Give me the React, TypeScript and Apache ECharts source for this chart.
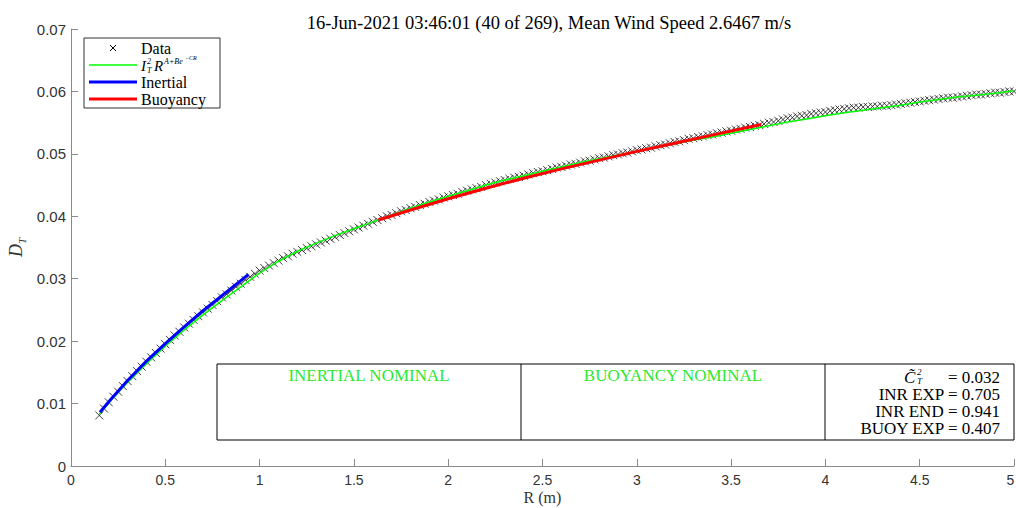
import React, { useEffect, useRef } from "react";
import * as echarts from "echarts";

const TITLE = "16-Jun-2021 03:46:01 (40 of 269), Mean Wind Speed 2.6467 m/s";

// Measured structure function samples
const R_DATA = [
  0.15, 0.175, 0.2, 0.225, 0.25, 0.275, 0.3, 0.325, 0.35, 0.375, 0.4, 0.425, 0.45, 0.475, 0.5,
  0.525, 0.55, 0.575, 0.6, 0.625, 0.65, 0.675, 0.7, 0.725, 0.75, 0.775, 0.8, 0.825, 0.85, 0.875,
  0.9, 0.925, 0.95, 0.975, 1.0, 1.025, 1.05, 1.075, 1.1, 1.125, 1.15, 1.175, 1.2, 1.225, 1.25,
  1.275, 1.3, 1.325, 1.35, 1.375, 1.4, 1.425, 1.45, 1.475, 1.5, 1.525, 1.55, 1.575, 1.6, 1.625,
  1.65, 1.675, 1.7, 1.725, 1.75, 1.775, 1.8, 1.825, 1.85, 1.875, 1.9, 1.925, 1.95, 1.975, 2.0,
  2.025, 2.05, 2.075, 2.1, 2.125, 2.15, 2.175, 2.2, 2.225, 2.25, 2.275, 2.3, 2.325, 2.35, 2.375,
  2.4, 2.425, 2.45, 2.475, 2.5, 2.525, 2.55, 2.575, 2.6, 2.625, 2.65, 2.675, 2.7, 2.725, 2.75,
  2.775, 2.8, 2.825, 2.85, 2.875, 2.9, 2.925, 2.95, 2.975, 3.0, 3.025, 3.05, 3.075, 3.1, 3.125,
  3.15, 3.175, 3.2, 3.225, 3.25, 3.275, 3.3, 3.325, 3.35, 3.375, 3.4, 3.425, 3.45, 3.475, 3.5,
  3.525, 3.55, 3.575, 3.6, 3.625, 3.65, 3.675, 3.7, 3.725, 3.75, 3.775, 3.8, 3.825, 3.85, 3.875,
  3.9, 3.925, 3.95, 3.975, 4.0, 4.025, 4.05, 4.075, 4.1, 4.125, 4.15, 4.175, 4.2, 4.225, 4.25,
  4.275, 4.3, 4.325, 4.35, 4.375, 4.4, 4.425, 4.45, 4.475, 4.5, 4.525, 4.55, 4.575, 4.6, 4.625,
  4.65, 4.675, 4.7, 4.725, 4.75, 4.775, 4.8, 4.825, 4.85, 4.875, 4.9, 4.925, 4.95, 4.975, 5.0,
];
const D_DATA = [
  0.0081, 0.0092, 0.0102, 0.0111, 0.0119, 0.0128, 0.0136, 0.0144, 0.0152, 0.0159, 0.0167, 0.0174, 0.0181, 0.0188, 0.0195,
  0.0202, 0.0209, 0.0215, 0.0222, 0.0228, 0.0234, 0.024, 0.0246, 0.0252, 0.0258, 0.0264, 0.027, 0.0275, 0.0281, 0.0287,
  0.0292, 0.0298, 0.0303, 0.0308, 0.0313, 0.0317, 0.0321, 0.0325, 0.0329, 0.0333, 0.0336, 0.034, 0.0343, 0.0346, 0.0349,
  0.0352, 0.0355, 0.0358, 0.0361, 0.0364, 0.0367, 0.037, 0.0373, 0.0376, 0.0379, 0.0382, 0.0385, 0.0388, 0.0391, 0.0394,
  0.0397, 0.04, 0.0402, 0.0405, 0.0408, 0.041, 0.0413, 0.0415, 0.0418, 0.042, 0.0423, 0.0425, 0.0427, 0.043, 0.0432,
  0.0434, 0.0436, 0.0439, 0.0441, 0.0443, 0.0445, 0.0447, 0.045, 0.0452, 0.0454, 0.0456, 0.0458, 0.046, 0.0462, 0.0463,
  0.0465, 0.0467, 0.0469, 0.0471, 0.0472, 0.0474, 0.0476, 0.0478, 0.0479, 0.0481, 0.0483, 0.0484, 0.0486, 0.0488, 0.0489,
  0.0491, 0.0493, 0.0494, 0.0496, 0.0498, 0.0499, 0.0501, 0.0502, 0.0504, 0.0506, 0.0507, 0.0509, 0.051, 0.0512, 0.0514,
  0.0515, 0.0517, 0.0519, 0.052, 0.0522, 0.0524, 0.0525, 0.0527, 0.0528, 0.053, 0.0531, 0.0533, 0.0534, 0.0536, 0.0537,
  0.0539, 0.054, 0.0542, 0.0543, 0.0545, 0.0546, 0.0548, 0.055, 0.0551, 0.0553, 0.0555, 0.0557, 0.0558, 0.056, 0.0561,
  0.0562, 0.0564, 0.0565, 0.0566, 0.0567, 0.0569, 0.057, 0.0571, 0.0572, 0.0573, 0.0574, 0.0574, 0.0575, 0.0575, 0.0576,
  0.0576, 0.0577, 0.0577, 0.0578, 0.0579, 0.058, 0.0581, 0.0582, 0.0583, 0.0584, 0.0585, 0.0586, 0.0587, 0.0588, 0.0589,
  0.059, 0.059, 0.0591, 0.0592, 0.0593, 0.0594, 0.0595, 0.0595, 0.0596, 0.0597, 0.0598, 0.0598, 0.0599, 0.06, 0.06,
];

// Full model fit  I_T^2 R^(A+B e^(-CR))
const R_FIT = [0.15, 0.2, 0.3, 0.4, 0.5, 0.6, 0.7, 0.8, 0.9, 1.0, 1.1, 1.2, 1.3, 1.4, 1.5, 1.6, 1.7, 1.8, 1.9, 2.0, 2.1, 2.2, 2.3, 2.4, 2.5, 2.6, 2.7, 2.8, 2.9, 3.0, 3.1, 3.2, 3.3, 3.4, 3.5, 3.6, 3.7, 3.8, 3.9, 4.0, 4.1, 4.2, 4.3, 4.4, 4.5, 4.6, 4.7, 4.8, 4.9, 5.0];
const D_FIT = [0.0083, 0.0101, 0.0134, 0.0164, 0.0192, 0.0218, 0.0242, 0.0265, 0.0287, 0.0309, 0.0328, 0.0344, 0.0357, 0.0369, 0.038, 0.0391, 0.0402, 0.0413, 0.0423, 0.0432, 0.0441, 0.045, 0.0458, 0.0465, 0.0472, 0.0479, 0.0486, 0.0492, 0.0498, 0.0504, 0.051, 0.0516, 0.0522, 0.0527, 0.0533, 0.0539, 0.0545, 0.0551, 0.0556, 0.0561, 0.0566, 0.057, 0.0574, 0.0578, 0.0583, 0.0587, 0.0591, 0.0594, 0.0597, 0.0601];

// Inertial range fit
const R_INR = [0.154, 0.2, 0.3, 0.4, 0.5, 0.6, 0.7, 0.8, 0.9, 0.941];
const D_INR = [0.0086, 0.0103, 0.0137, 0.0168, 0.0196, 0.0223, 0.0249, 0.0273, 0.0297, 0.0307];

// Buoyancy range fit
const R_BUOY = [1.63, 1.8, 2.0, 2.2, 2.4, 2.6, 2.8, 3.0, 3.2, 3.4, 3.66];
const D_BUOY = [0.0394, 0.041, 0.0428, 0.0445, 0.0461, 0.0476, 0.049, 0.0504, 0.0517, 0.053, 0.0547];

const STAT_LABELS = ["INR EXP", "INR END", "BUOY EXP"];
const STAT_VALUES = ["0.705", "0.941", "0.407"];
const CT2_VALUE = "0.032";

const SERIF = "'Liberation Serif', 'Times New Roman', serif";
const SANS = "'Liberation Sans', Arial, sans-serif";

const pairs = (xs: number[], ys: number[]) => xs.map((x, i) => [x, ys[i]]);

const txt = (x: number, y: number, text: string, size: number, extra: any = {}) => ({
  type: "text",
  z: 101,
  x,
  y,
  style: {
    text,
    fontFamily: SERIF,
    fontSize: size,
    fill: "#000",
    verticalAlign: "middle",
    ...extra,
  },
});

export default function App() {
  const ref = useRef<HTMLDivElement>(null);
  useEffect(() => {
    if (!ref.current) return;
    const chart = echarts.init(ref.current, undefined, { renderer: "svg" });
    const axisColor = "#8a8a8a";
    const labelColor = "#333";
    const legendX = 84, legendY = 38;
    const rowY = [48, 65, 82, 99];
    const it = { fontStyle: "italic" };
    const graphic: any[] = [
      // legend box
      { type: "rect", z: 100, shape: { x: legendX, y: legendY, width: 136, height: 70 }, style: { fill: "#fff", stroke: "#333", lineWidth: 1 } },
      { type: "line", z: 101, shape: { x1: 110, y1: rowY[0] - 3, x2: 116, y2: rowY[0] + 3 }, style: { stroke: "#000", lineWidth: 1 } },
      { type: "line", z: 101, shape: { x1: 116, y1: rowY[0] - 3, x2: 110, y2: rowY[0] + 3 }, style: { stroke: "#000", lineWidth: 1 } },
      txt(141, rowY[0], "Data", 16),
      { type: "line", z: 101, shape: { x1: 89, y1: rowY[1], x2: 137, y2: rowY[1] }, style: { stroke: "#00ff00", lineWidth: 1.5 } },
      txt(141, rowY[1] + 1, "I", 15, it),
      txt(147, rowY[1] - 4, "2", 8, it),
      txt(147, rowY[1] + 5, "T", 8, it),
      txt(154, rowY[1] + 1, "R", 15, it),
      txt(164, rowY[1] - 4, "A+Be", 8, it),
      txt(185, rowY[1] - 7, "−CR", 6, it),
      { type: "line", z: 101, shape: { x1: 89, y1: rowY[2], x2: 137, y2: rowY[2] }, style: { stroke: "#0000ff", lineWidth: 3 } },
      txt(141, rowY[2], "Inertial", 16),
      { type: "line", z: 101, shape: { x1: 89, y1: rowY[3], x2: 137, y2: rowY[3] }, style: { stroke: "#ff0000", lineWidth: 3 } },
      txt(141, rowY[3], "Buoyancy", 16),
      // annotation box
      { type: "rect", z: 90, shape: { x: 217, y: 364, width: 797, height: 76 }, style: { fill: "#fff", stroke: "#000", lineWidth: 1 } },
      { type: "line", z: 91, shape: { x1: 521, y1: 364, x2: 521, y2: 440 }, style: { stroke: "#000", lineWidth: 1 } },
      { type: "line", z: 91, shape: { x1: 825, y1: 364, x2: 825, y2: 440 }, style: { stroke: "#000", lineWidth: 1 } },
      txt(369, 375, "INERTIAL NOMINAL", 17, { fill: "#2ee82e", align: "center" }),
      txt(673, 375, "BUOYANCY NOMINAL", 17, { fill: "#2ee82e", align: "center" }),
      txt(904, 377, "C\u0303", 17, it),
      txt(917, 372, "2", 9, it),
      txt(917, 381, "T", 9, it),
      txt(1000, 377, "= " + CT2_VALUE, 17, { align: "right" }),
      ...STAT_LABELS.map((lab, i) => txt(1000, 394 + i * 17, lab + " = " + STAT_VALUES[i], 17, { align: "right" })),
    ];

    chart.setOption({
      animation: false,
      backgroundColor: "#fff",
      title: {
        text: TITLE,
        left: 544,
        textAlign: "center",
        top: 8,
        textStyle: { fontFamily: SERIF, fontSize: 18.5, fontWeight: "normal", color: "#000" },
      },
      grid: { left: 71, right: 2, top: 29, bottom: 42, outerBoundsMode: "none", containLabel: false },
      xAxis: {
        type: "value", min: 0, max: 5, interval: 0.5,
        axisLine: { show: true, lineStyle: { color: axisColor, width: 1 } },
        axisTick: { show: true, inside: true, length: 7, lineStyle: { color: axisColor } },
        axisLabel: {
          color: labelColor, fontFamily: SANS, fontSize: 14, margin: 7,
          formatter: (v: number) => (v === 5 ? "{e|5}" : String(v)),
          rich: { e: { color: labelColor, fontFamily: SANS, fontSize: 14, padding: [0, 7, 0, 0] } },
        },
        splitLine: { show: false },
        name: "R (m)", nameLocation: "middle", nameGap: 23, nameMoveOverlap: false,
        nameTextStyle: { fontFamily: SERIF, fontSize: 16, color: "#333" },
      },
      yAxis: {
        type: "value", min: 0, max: 0.07, interval: 0.01,
        axisLine: { show: true, lineStyle: { color: axisColor, width: 1 } },
        axisTick: { show: true, inside: true, length: 7, lineStyle: { color: axisColor } },
        axisLabel: {
          color: labelColor, fontFamily: SANS, fontSize: 15, margin: 5,
          formatter: (v: number) => (v === 0 ? "0" : v.toFixed(2)),
        },
        splitLine: { show: false },
        name: "{d|D}{s|T}", nameLocation: "middle", nameGap: 44, nameMoveOverlap: false,
        nameTextStyle: {
          rich: {
            d: { fontFamily: SERIF, fontSize: 18, fontStyle: "italic", color: "#333" },
            s: { fontFamily: SERIF, fontSize: 11, fontStyle: "italic", color: "#333", verticalAlign: "bottom", lineHeight: 22 },
          },
        },
      },
      series: [
        {
          name: "Data", type: "scatter", data: pairs(R_DATA, D_DATA),
          symbol: "path://M0,0L10,10M10,0L0,10", symbolSize: 8,
          itemStyle: { color: "transparent", borderColor: "#111", borderWidth: 1, opacity: 0.8 },
          z: 2,
        },
        {
          name: "Fit", type: "line", data: pairs(R_FIT, D_FIT), showSymbol: false, symbol: "none",
          lineStyle: { color: "#00ff00", width: 1.5 }, z: 3,
        },
        {
          name: "Inertial", type: "line", data: pairs(R_INR, D_INR), showSymbol: false, symbol: "none",
          lineStyle: { color: "#0000ff", width: 3 }, z: 4,
        },
        {
          name: "Buoyancy", type: "line", data: pairs(R_BUOY, D_BUOY), showSymbol: false, symbol: "none",
          lineStyle: { color: "#ff0000", width: 3 }, z: 4,
        },
      ],
      graphic,
    });
    return () => chart.dispose();
  }, []);
  return (
    <div
      ref={ref}
      style={{ position: "fixed", left: 0, top: 0, width: 1016, height: 508, background: "#fff" }}
    />
  );
}
